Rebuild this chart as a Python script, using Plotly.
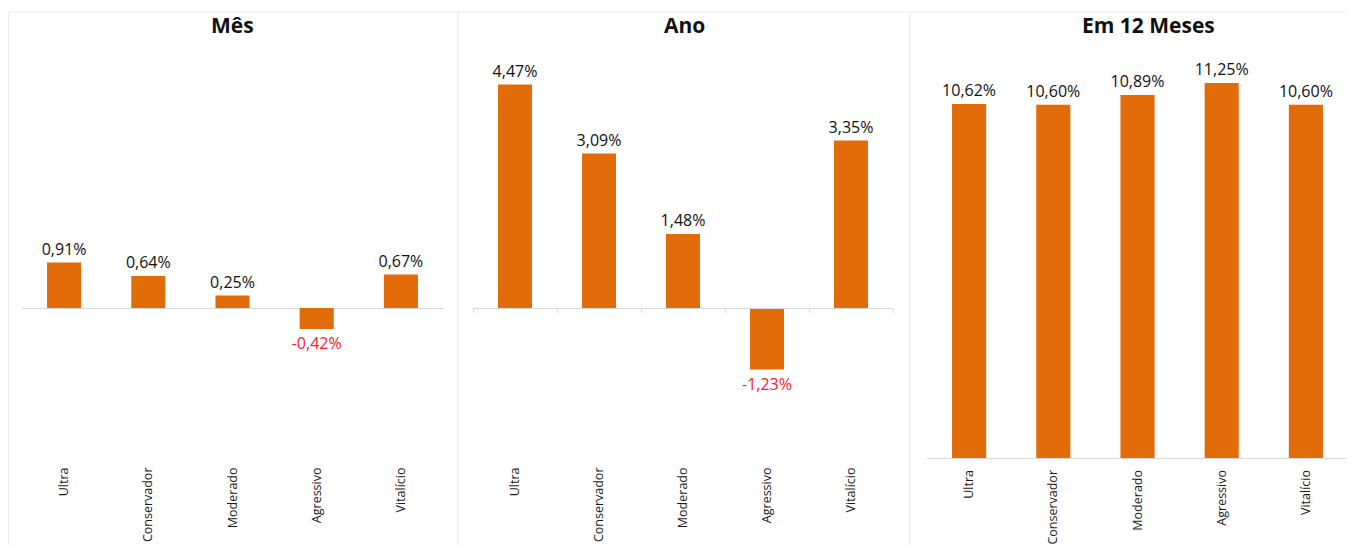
import plotly.graph_objects as go

categories = ["Ultra", "Conservador", "Moderado", "Agressivo", "Vitalício"]
mes = [0.91, 0.64, 0.25, -0.42, 0.67]
ano = [4.47, 3.09, 1.48, -1.23, 3.35]
doze_meses = [10.62, 10.60, 10.89, 11.25, 10.60]
titles = ["Mês", "Ano", "Em 12 Meses"]

W, H = 1354, 545
OFF = 8  # page body margin
BAR = "#E36C0A"
AXIS = "#d9d9d9"
BORDER = "#ecece6"
FONT = "Open Sans"


def fmt(v):
    return f"{v:.2f}".replace(".", ",") + "%"


def px_x(p):
    return (p - OFF) / W


def px_y(p):
    return (H - (p - OFF)) / H


fig = go.Figure()
series = [mes, ano, doze_meses]
for i, vals in enumerate(series):
    sfx = "" if i == 0 else str(i + 1)
    fig.add_trace(go.Bar(
        x=categories, y=vals,
        xaxis="x" + sfx, yaxis="y" + sfx,
        marker=dict(color=BAR, line=dict(width=0)),
        text=[fmt(v) for v in vals],
        textposition="outside",
        textfont=dict(family=FONT, size=16,
                      color=["#111111" if v >= 0 else "#ff2020" for v in vals]),
        cliponaxis=False,
        constraintext="none",
        hoverinfo="skip",
        showlegend=False,
    ))

xdomains = [(22, 443), (473, 893), (927, 1348)]
ydom = [px_y(458), px_y(58)]
yranges = [[-3, 5], [-3, 5], [0, 12]]

layout = dict(
    width=W, height=H,
    margin=dict(l=0, r=0, t=0, b=0),
    paper_bgcolor="white", plot_bgcolor="white",
    bargap=0.595,
    font=dict(family=FONT, color="#222"),
)
for i in range(3):
    sfx = "" if i == 0 else str(i + 1)
    layout["xaxis" + sfx] = dict(
        domain=[px_x(xdomains[i][0]), px_x(xdomains[i][1])],
        anchor="y" + sfx,
        type="category",
        tickangle=-90,
        tickfont=dict(family=FONT, size=12.5, color="#1a1a1a"),
        ticklabelstandoff=6,
        showgrid=False,
        showline=(i == 2), linecolor=AXIS, linewidth=1,
        ticks="", fixedrange=True,
    )
    layout["yaxis" + sfx] = dict(
        domain=ydom, anchor="x" + sfx,
        range=yranges[i],
        showgrid=False, showticklabels=False, ticks="",
        zeroline=(i < 2), zerolinecolor=AXIS, zerolinewidth=1,
        showline=False, fixedrange=True,
    )

# tick marks on zero line of second panel (overlay axis at y=0)
zero_pos = ydom[0] + (ydom[1] - ydom[0]) * (0 - yranges[1][0]) / (yranges[1][1] - yranges[1][0])
layout["xaxis4"] = dict(
    overlaying="x2", anchor="free", position=zero_pos,
    type="category", categoryarray=categories, categoryorder="array",
    range=[-0.5, len(categories) - 0.5],
    showticklabels=False, ticks="outside", tickson="boundaries",
    ticklen=4, tickcolor=AXIS, showline=True, linecolor=AXIS,
    showgrid=False, domain=[px_x(473), px_x(893)], fixedrange=True,
)
fig.add_trace(go.Scatter(x=categories, y=[None] * 5, xaxis="x4", yaxis="y2",
                         showlegend=False, hoverinfo="skip"))

fig.update_layout(**layout)

# panel borders
for x0, x1 in [(8.5, 458), (458, 910), (910, 1353)]:
    fig.add_shape(type="rect", xref="paper", yref="paper",
                  x0=px_x(x0), x1=px_x(x1), y0=px_y(548), y1=px_y(12),
                  line=dict(color=BORDER, width=1), fillcolor="rgba(0,0,0,0)",
                  layer="below")

centers = [232, 684, 1148]
for t, c in zip(titles, centers):
    fig.add_annotation(text=f"<b>{t}</b>", x=px_x(c), y=px_y(25),
                       xref="paper", yref="paper", showarrow=False,
                       xanchor="center", yanchor="middle",
                       font=dict(family=FONT, size=21, color="#111"))

fig.write_html("out.html")
